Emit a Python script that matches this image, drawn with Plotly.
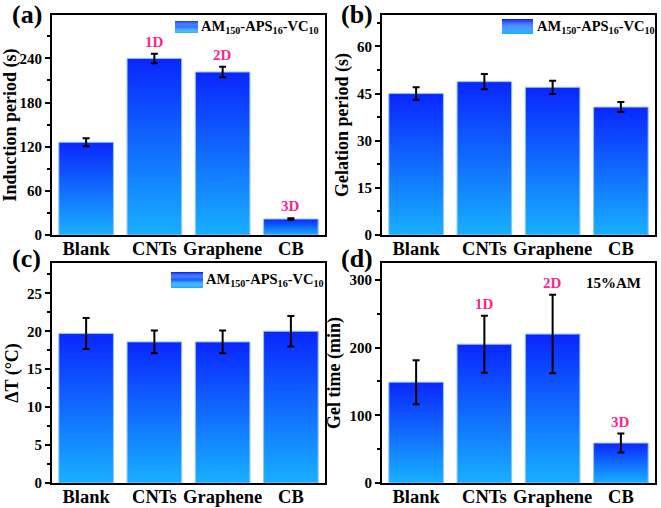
import plotly.graph_objects as go

categories = ["Blank", "CNTs", "Graphene", "CB"]

induction = [126, 240, 221.5, 21.7]
induction_err = [5.5, 6.5, 7, 1]

gelation = [45.0, 48.8, 47.0, 40.7]
gelation_err = [2.0, 2.4, 2.1, 1.6]

delta_t = [19.7, 18.6, 18.6, 20.0]
delta_t_err = [2.05, 1.5, 1.5, 2.0]

gel_time = [149, 205, 220, 59]
gel_time_err = [32.5, 42, 58, 14]

dim_labels_a = ["", "1D", "2D", "3D"]
dim_labels_d = ["", "1D", "2D", "3D"]

legend_label = "AM<sub>150</sub>-APS<sub>16</sub>-VC<sub>10</sub>"

W, H = 661, 508
FONT = "Liberation Serif"
DARK = "#0a26ff"
LIGHT = "#18b0ff"
PINK = "#ff1f8e"
BAR_W = 0.8

fig = go.Figure()

panels = [
    dict(x="x", y="y", vals=induction, errs=induction_err, rng=[0, 299], dtick=60,
         title="Induction period (s)", labels=dim_labels_a),
    dict(x="x2", y="y2", vals=gelation, errs=gelation_err, rng=[0, 70], dtick=15,
         title="Gelation period (s)", labels=None),
    dict(x="x3", y="y3", vals=delta_t, errs=delta_t_err, rng=[0, 29], dtick=5,
         title="ΔT (°C)", labels=None),
    dict(x="x4", y="y4", vals=gel_time, errs=gel_time_err, rng=[0, 325], dtick=100,
         title="Gel time (min)", labels=dim_labels_d),
]

annotations = []
for p in panels:
    for i, (v, e) in enumerate(zip(p["vals"], p["errs"])):
        xl, xr = i - BAR_W / 2, i + BAR_W / 2
        fig.add_trace(go.Scatter(
            x=[xl, xl, xr, xr, xl], y=[0, v, v, 0, 0],
            xaxis=p["x"], yaxis=p["y"], mode="lines", fill="toself",
            line=dict(color="#8fc4ff", width=1),
            fillgradient=dict(type="vertical", colorscale=[[0, LIGHT], [1, DARK]]),
            showlegend=False, hoverinfo="skip"))
    fig.add_trace(go.Scatter(
        x=list(range(len(categories))), y=p["vals"], xaxis=p["x"], yaxis=p["y"],
        mode="markers", marker=dict(opacity=0, size=1),
        error_y=dict(type="data", array=p["errs"], color="black", thickness=2, width=3.5),
        showlegend=False))
    if p["labels"]:
        for i, (lab, v, e) in enumerate(zip(p["labels"], p["vals"], p["errs"])):
            if lab:
                annotations.append(dict(
                    x=i, y=v + e, xref=p["x"], yref=p["y"], text=lab, showarrow=False,
                    yanchor="bottom", yshift=2,
                    font=dict(family=FONT, size=15, color=PINK, weight="bold")))

xdom_l = [52 / W, 325 / W]
xdom_r = [382 / W, 655 / W]
ydom_t = [1 - 235 / H, 1 - 15 / H]
ydom_b = [1 - 483 / H, 1 - 263 / H]

def xax(dom, anchor):
    return dict(domain=dom, anchor=anchor, range=[-0.5, 3.5], automargin=False,
                tickvals=list(range(len(categories))), ticktext=categories,
                ticks="", showline=True, mirror=True, linecolor="black", linewidth=2,
                showgrid=False, zeroline=False, ticklabelstandoff=-4,
                tickfont=dict(family=FONT, size=18.5, color="black", weight="bold"))

def yax(dom, anchor, p):
    return dict(domain=dom, anchor=anchor, range=p["rng"], dtick=p["dtick"], automargin=False,
                ticks="outside", ticklen=5, tickwidth=2, tickcolor="black",
                minor=dict(ticks="outside", ticklen=3, tickwidth=1.5, tickcolor="black", dtick=p["dtick"] / 2),
                showline=True, mirror=True, linecolor="black", linewidth=2,
                showgrid=False, zeroline=False,
                tickfont=dict(family=FONT, size=15, color="black", weight="bold"),
                title=dict(text=p["title"], standoff=4,
                           font=dict(family=FONT, size=18, color="black", weight="bold")))

fig.update_layout(
    xaxis=xax(xdom_l, "y"), yaxis=yax(ydom_t, "x", panels[0]),
    xaxis2=xax(xdom_r, "y2"), yaxis2=yax(ydom_t, "x2", panels[1]),
    xaxis3=xax(xdom_l, "y3"), yaxis3=yax(ydom_b, "x3", panels[2]),
    xaxis4=xax(xdom_r, "y4"), yaxis4=yax(ydom_b, "x4", panels[3]),
)

# panel letters
for lab, px, py in [("(a)", 27, 15), ("(b)", 357, 15), ("(c)", 27, 258), ("(d)", 357, 258)]:
    annotations.append(dict(x=px / W, y=1 - py / H, xref="paper", yref="paper", text=lab,
                            showarrow=False, xanchor="center", yanchor="middle",
                            font=dict(family=FONT, size=26, color="black", weight="bold")))

# legends (gradient swatch + text)
shapes = []
def add_legend(x0, x1, y0, y1, tx):
    n = 14
    c0 = tuple(int(DARK[j:j + 2], 16) for j in (1, 3, 5))
    c1 = tuple(int(LIGHT[j:j + 2], 16) for j in (1, 3, 5))
    for k in range(n):
        t = k / (n - 1)
        col = "rgb(%d,%d,%d)" % tuple(round(a + (b - a) * t) for a, b in zip(c0, c1))
        ya = y0 + (y1 - y0) * k / n
        yb = y0 + (y1 - y0) * (k + 1) / n
        shapes.append(dict(type="rect", xref="paper", yref="paper",
                           x0=x0 / W, x1=x1 / W, y0=1 - ya / H, y1=1 - yb / H,
                           line=dict(width=0), fillcolor=col, layer="above"))
    annotations.append(dict(x=tx / W, y=1 - (y0 + y1) / 2 / H, xref="paper", yref="paper",
                            text=legend_label, showarrow=False, xanchor="left", yanchor="middle",
                            font=dict(family=FONT, size=14.5, color="black", weight="bold")))

add_legend(175, 198, 21, 33, 199)
add_legend(502, 533, 19, 34, 535)
add_legend(171, 203, 272, 288, 204)

annotations.append(dict(x=643 / W, y=1 - 283 / H, xref="paper", yref="paper", text="15%AM",
                        showarrow=False, xanchor="right", yanchor="middle",
                        font=dict(family=FONT, size=15, color="black", weight="bold")))

fig.update_layout(
    width=W, height=H, margin=dict(l=0, r=0, t=0, b=0, autoexpand=False),
    paper_bgcolor="white", plot_bgcolor="white",
    annotations=annotations, shapes=shapes, showlegend=False,
)

fig.write_html("out.html", config={"displayModeBar": False},
               post_script="document.body.style.margin='0';")
